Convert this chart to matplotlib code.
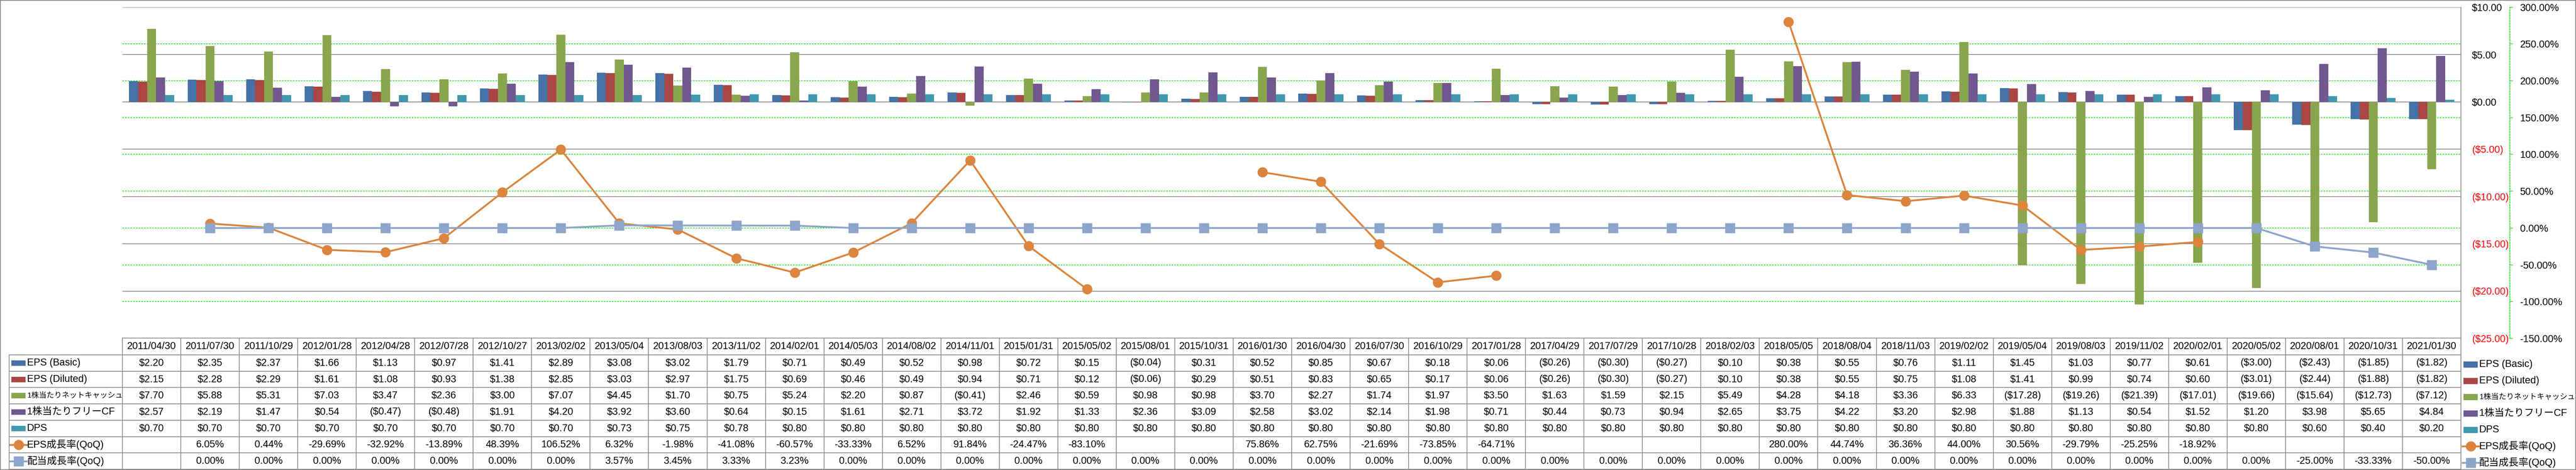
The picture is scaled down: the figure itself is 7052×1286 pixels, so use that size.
import numpy as np
import matplotlib
matplotlib.use("Agg")
import matplotlib.pyplot as plt
from matplotlib.lines import Line2D
from matplotlib.patches import Rectangle
from matplotlib.transforms import blended_transform_factory

nan = np.nan

dates = ["2011/04/30", "2011/07/30", "2011/10/29", "2012/01/28", "2012/04/28", "2012/07/28",
         "2012/10/27", "2013/02/02", "2013/05/04", "2013/08/03", "2013/11/02", "2014/02/01",
         "2014/05/03", "2014/08/02", "2014/11/01", "2015/01/31", "2015/05/02", "2015/08/01",
         "2015/10/31", "2016/01/30", "2016/04/30", "2016/07/30", "2016/10/29", "2017/01/28",
         "2017/04/29", "2017/07/29", "2017/10/28", "2018/02/03", "2018/05/05", "2018/08/04",
         "2018/11/03", "2019/02/02", "2019/05/04", "2019/08/03", "2019/11/02", "2020/02/01",
         "2020/05/02", "2020/08/01", "2020/10/31", "2021/01/30"]

eps_basic = [2.20, 2.35, 2.37, 1.66, 1.13, 0.97, 1.41, 2.89, 3.08, 3.02, 1.79, 0.71, 0.49, 0.52,
             0.98, 0.72, 0.15, -0.04, 0.31, 0.52, 0.85, 0.67, 0.18, 0.06, -0.26, -0.30, -0.27,
             0.10, 0.38, 0.55, 0.76, 1.11, 1.45, 1.03, 0.77, 0.61, -3.00, -2.43, -1.85, -1.82]
eps_diluted = [2.15, 2.28, 2.29, 1.61, 1.08, 0.93, 1.38, 2.85, 3.03, 2.97, 1.75, 0.69, 0.46, 0.49,
               0.94, 0.71, 0.12, -0.06, 0.29, 0.51, 0.83, 0.65, 0.17, 0.06, -0.26, -0.30, -0.27,
               0.10, 0.38, 0.55, 0.75, 1.08, 1.41, 0.99, 0.74, 0.60, -3.01, -2.44, -1.88, -1.82]
net_cash = [7.70, 5.88, 5.31, 7.03, 3.47, 2.36, 3.00, 7.07, 4.45, 1.70, 0.75, 5.24, 2.20, 0.87,
            -0.41, 2.46, 0.59, 0.98, 0.98, 3.70, 2.27, 1.74, 1.97, 3.50, 1.63, 1.59, 2.15, 5.49,
            4.28, 4.18, 3.36, 6.33, -17.28, -19.26, -21.39, -17.01, -19.66, -15.64, -12.73, -7.12]
fcf = [2.57, 2.19, 1.47, 0.54, -0.47, -0.48, 1.91, 4.20, 3.92, 3.60, 0.64, 0.15, 1.61, 2.71,
       3.72, 1.92, 1.33, 2.36, 3.09, 2.58, 3.02, 2.14, 1.98, 0.71, 0.44, 0.73, 0.94, 2.65,
       3.75, 4.22, 3.20, 2.98, 1.88, 1.13, 0.54, 1.52, 1.20, 3.98, 5.65, 4.84]
dps = [0.70, 0.70, 0.70, 0.70, 0.70, 0.70, 0.70, 0.70, 0.73, 0.75, 0.78, 0.80, 0.80, 0.80,
       0.80, 0.80, 0.80, 0.80, 0.80, 0.80, 0.80, 0.80, 0.80, 0.80, 0.80, 0.80, 0.80, 0.80,
       0.80, 0.80, 0.80, 0.80, 0.80, 0.80, 0.80, 0.80, 0.80, 0.60, 0.40, 0.20]
eps_growth = [nan, 6.05, 0.44, -29.69, -32.92, -13.89, 48.39, 106.52, 6.32, -1.98, -41.08,
              -60.57, -33.33, 6.52, 91.84, -24.47, -83.10, nan, nan, 75.86, 62.75, -21.69,
              -73.85, -64.71, nan, nan, nan, nan, 280.00, 44.74, 36.36, 44.00, 30.56, -29.79,
              -25.25, -18.92, nan, nan, nan, nan]
div_growth = [nan, 0.00, 0.00, 0.00, 0.00, 0.00, 0.00, 0.00, 3.57, 3.45, 3.33, 3.23, 0.00, 0.00,
              0.00, 0.00, 0.00, 0.00, 0.00, 0.00, 0.00, 0.00, 0.00, 0.00, 0.00, 0.00, 0.00, 0.00,
              0.00, 0.00, 0.00, 0.00, 0.00, 0.00, 0.00, 0.00, 0.00, -25.00, -33.33, -50.00]

bar_labels = ["EPS (Basic)", "EPS (Diluted)", "1株当たりネットキャッシュ", "1株当たりフリーCF", "DPS"]
line_labels = ["EPS成長率(QoQ)", "配当成長率(QoQ)"]
bar_series = [eps_basic, eps_diluted, net_cash, fcf, dps]
line_series = [eps_growth, div_growth]
bar_colors = ["#4572A7", "#AA4643", "#89A54E", "#71588F", "#4198AF"]
line_colors = ["#DB843D", "#8EA5CB"]
line_markers = ["o", "s"]

plt.rcParams['font.family'] = ['Liberation Sans', 'Noto Sans CJK JP']
FS = 19.5

W, H = 7052, 1286
fig = plt.figure(figsize=(W / 100, H / 100), dpi=100)


def X(px):
    return px / W


def Y(px):
    return 1 - px / H


plot_l, plot_r, plot_t, plot_b = 335, 6737, 19.5, 926
pos = [X(plot_l), Y(plot_b), X(plot_r) - X(plot_l), (plot_b - plot_t) / H]

n = len(dates)
x = np.arange(n)
GREEN = "#00E600"
GRID = "#8A8A8A"

# green % gridlines, under the bars
axg = fig.add_axes(pos, zorder=0)
axg.set_xlim(-0.5, n - 0.5)
axg.set_ylim(-150, 300)
axg.set_yticks(np.arange(-100, 300, 50))
axg.set_xticks([])
axg.yaxis.grid(True, color=GREEN, lw=1.3, dashes=(2.5, 1.6))
axg.tick_params(left=False, labelleft=False)
for s in axg.spines.values():
    s.set_visible(False)
axg.patch.set_visible(False)

# bars on the $ axis, lines on the % axis
ax = fig.add_axes(pos, zorder=1)
ax2 = ax.twinx()
ax2.set_zorder(2)
ax.patch.set_visible(False)
ax2.patch.set_visible(False)

ax.set_xlim(-0.5, n - 0.5)
ax.set_ylim(-25, 10)
bw = 1 / 6.5
for k, (vals, c) in enumerate(zip(bar_series, bar_colors)):
    ax.bar(x + (k - 2) * bw, vals, width=bw, color=c, linewidth=0)
ax.set_axisbelow(True)
yt = np.arange(-25, 11, 5)
ax.set_yticks(yt, labels=[f"${v:.2f}" if v >= 0 else f"(${-v:.2f})" for v in yt])
ax.yaxis.tick_right()
ax.tick_params(axis='y', which='both', left=False, labelleft=False, right=False,
               labelright=True, length=0, pad=21.6, labelsize=FS)
for t, v in zip(ax.get_yticklabels(), yt):
    t.set_color("red" if v < 0 else "black")
ax.yaxis.grid(True, color=GRID, lw=1.5)
ax.set_xticks([])
for k in ["left", "top", "bottom"]:
    ax.spines[k].set_visible(False)
ax.spines["right"].set_color(GRID)
ax.spines["right"].set_linewidth(1.5)

ax2.set_xlim(-0.5, n - 0.5)
ax2.set_ylim(-150, 300)
for vals, c, m in zip(line_series, line_colors, line_markers):
    ax2.plot(x, vals, color=c, lw=3.6, marker=m, ms=19, mec=c, mfc=c, clip_on=False)
pt = np.arange(-150, 301, 50)
ax2.set_yticks(pt, labels=[f"{v:.2f}%" for v in pt])
for t, v in zip(ax2.get_yticklabels(), pt):
    t.set_color("red" if v < 0 else "black")
ax2.tick_params(axis='y', length=5.8, width=1.2, color=GREEN, pad=14.4, labelsize=FS)
for k in ["left", "top", "bottom"]:
    ax2.spines[k].set_visible(False)
ax2.spines["right"].set_position(("axes", 1 + (6871 - plot_r) / (plot_r - plot_l)))
ax2.spines["right"].set_color(GREEN)
ax2.spines["right"].set_linewidth(1.3)
ax2.spines["right"].set_linestyle((0, (2.5, 1.6)))

# data table below the plot
tx = blended_transform_factory(ax.transData, fig.transFigure)
head_t, head_b, tab_b = 925, 971, 1284
row_h = (tab_b - head_b) / 7
lw_t = 1.5


def fline(xs, ys, trans, lw=lw_t):
    fig.add_artist(Line2D(xs, ys, transform=trans, color=GRID, lw=lw))


fline([-0.5, n - 0.5], [Y(head_t), Y(head_t)], tx)
for r in range(8):
    yy = Y(head_b + r * row_h)
    fline([X(25), X(plot_r)], [yy, yy], fig.transFigure)
for i in range(n + 1):
    fline([i - 0.5, i - 0.5], [Y(head_t), Y(tab_b)], tx)
fline([X(25), X(25)], [Y(head_b), Y(tab_b)], fig.transFigure)

for i, d in enumerate(dates):
    fig.text(i, Y((head_t + head_b) / 2), d, transform=tx, ha="center", va="center", fontsize=FS)


def money(v):
    return f"${v:.2f}" if v >= 0 else f"(${-v:.2f})"


def pct(v):
    return "" if np.isnan(v) else f"{v:.2f}%"


rows = [[money(v) for v in s] for s in bar_series] + [[pct(v) for v in s] for s in line_series]
for r, cells in enumerate(rows):
    yc = Y(head_b + (r + 0.5) * row_h)
    for i, s in enumerate(cells):
        fig.text(i, yc, s, transform=tx, ha="center", va="center", fontsize=FS)


def legend_key(r, x0, yc_px, h, label):
    yc = Y(yc_px)
    if r < 5:
        fig.add_artist(Rectangle((X(x0), yc - h / 2 / H), X(39), h / H,
                                 transform=fig.transFigure, color=bar_colors[r], lw=0))
    else:
        c = line_colors[r - 5]
        fig.add_artist(Line2D([X(x0 - 3), X(x0 + 42)], [yc, yc], transform=fig.transFigure,
                              color=c, lw=3.6))
        fig.add_artist(Line2D([X(x0 + 19.5)], [yc], transform=fig.transFigure, color=c,
                              marker=line_markers[r - 5], ms=19, mfc=c, mec=c))
    fs = 15 if r == 2 else FS
    fig.text(X(x0 + 43), yc, label, ha="left", va="center", fontsize=fs)


all_labels = bar_labels + line_labels
for r, lab in enumerate(all_labels):
    yc_px = head_b + (r + 0.5) * row_h
    legend_key(r, 31, yc_px, 15, lab)
    legend_key(r, 6744, yc_px + 4, 17, lab)

# outer frame
fig.add_artist(Rectangle((0, 0), 1, 1, transform=fig.transFigure, fill=False,
                         edgecolor=GRID, lw=3))

fig.savefig("out.png", dpi=100, facecolor="white")
